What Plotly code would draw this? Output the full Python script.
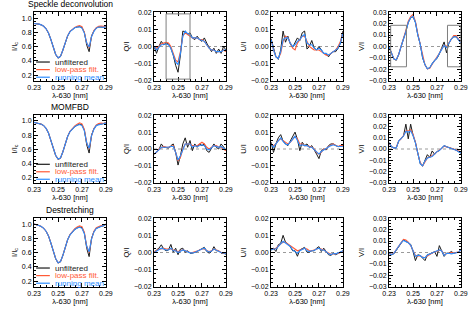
import plotly.graph_objects as go

# ---------------- data ----------------
wavelength = [0.230, 0.232, 0.234, 0.236, 0.238, 0.240, 0.242, 0.244, 0.246, 0.248,
              0.250, 0.252, 0.254, 0.256, 0.258, 0.260, 0.262, 0.264, 0.266, 0.268,
              0.270, 0.272, 0.274, 0.276, 0.278, 0.280, 0.282, 0.284, 0.286, 0.288, 0.290]

methods = ["Speckle deconvolution", "MOMFBD", "Destretching"]
stokes_labels = ["I/I<sub>c</sub>", "Q/I", "U/I", "V/I"]
series_names = ["unfiltered", "low-pass filt.", "running mean"]
x_tick_labels = ["0.23", "0.25", "0.27", "0.29"]

# Speckle deconvolution
speckle_I_unf = [0.925, 0.922, 0.915, 0.905, 0.885, 0.85, 0.79, 0.70, 0.59, 0.49, 0.44, 0.46, 0.55, 0.66, 0.75, 0.81, 0.845, 0.865, 0.875, 0.88, 0.865, 0.80, 0.62, 0.53, 0.75, 0.82, 0.86, 0.875, 0.875, 0.87, 0.88]
speckle_I_lp = [0.925, 0.922, 0.915, 0.905, 0.885, 0.85, 0.79, 0.70, 0.59, 0.495, 0.445, 0.465, 0.55, 0.66, 0.75, 0.815, 0.85, 0.87, 0.885, 0.895, 0.88, 0.80, 0.65, 0.585, 0.74, 0.825, 0.865, 0.885, 0.89, 0.88, 0.88]
speckle_I_rm = [0.925, 0.922, 0.915, 0.905, 0.885, 0.85, 0.79, 0.70, 0.59, 0.495, 0.445, 0.465, 0.55, 0.66, 0.75, 0.81, 0.845, 0.865, 0.875, 0.878, 0.86, 0.79, 0.65, 0.595, 0.74, 0.815, 0.86, 0.875, 0.875, 0.87, 0.88]
speckle_Q_unf = [0.0, -0.004, 0.0, 0.003, 0.001, 0.002, 0.0015, -0.001, -0.005, -0.011, -0.015, -0.005, 0.009, 0.0085, 0.007, 0.008, 0.005, 0.004, 0.006, 0.004, 0.003, 0.005, 0.002, -0.0005, -0.003, -0.001, -0.004, -0.0015, -0.004, 0.0, -0.002]
speckle_Q_lp = [0.0, -0.001, 0.0, 0.0015, 0.002, 0.0025, 0.002, 0.0, -0.004, -0.008, -0.009, -0.003, 0.006, 0.008, 0.007, 0.006, 0.005, 0.005, 0.005, 0.004, 0.004, 0.003, 0.001, -0.001, -0.002, -0.002, -0.003, -0.003, -0.003, -0.002, -0.003]
speckle_Q_rm = [0.0, -0.002, -0.0005, 0.001, 0.0012, 0.0015, 0.001, -0.001, -0.005, -0.009, -0.0105, -0.004, 0.006, 0.009, 0.0075, 0.007, 0.005, 0.005, 0.005, 0.004, 0.0035, 0.003, 0.001, -0.001, -0.002, -0.002, -0.003, -0.003, -0.003, -0.002, -0.002]
speckle_U_unf = [0.0045, -0.001, -0.006, -0.0075, -0.002, 0.009, 0.0025, 0.006, 0.0015, -0.0005, 0.002, 0.005, 0.0035, 0.008, 0.009, -0.0015, 0.0, 0.0035, -0.001, -0.002, 0.0, -0.002, -0.004, -0.0045, -0.006, -0.004, -0.003, -0.003, -0.001, 0.002, 0.009]
speckle_U_lp = [0.004, -0.002, -0.006, -0.007, -0.004, 0.003, 0.006, 0.005, 0.002, -0.001, -0.002, 0.002, 0.004, 0.006, 0.006, 0.003, 0.0, -0.001, -0.002, -0.002, -0.002, -0.003, -0.004, -0.005, -0.005, -0.004, -0.003, -0.002, 0.0, 0.003, 0.008]
speckle_U_rm = [0.004, -0.002, -0.006, -0.007, -0.003, 0.004, 0.005, 0.005, 0.002, 0.0, 0.001, 0.003, 0.004, 0.006, 0.007, 0.002, 0.001, 0.001, -0.001, -0.002, -0.001, -0.002, -0.004, -0.004, -0.005, -0.004, -0.003, -0.002, -0.001, 0.002, 0.008]
speckle_V_unf = [-0.0005, -0.005, -0.011, -0.012, -0.007, 0.0, 0.006, 0.013, 0.021, 0.025, 0.026, 0.021, 0.01, 0.002, -0.01, -0.016, -0.0195, -0.0185, -0.015, -0.012, -0.0105, -0.0065, -0.001, 0.004, -0.0055, 0.003, 0.0065, 0.0085, 0.0085, 0.0055, 0.003]
speckle_V_lp = [-0.0005, -0.005, -0.011, -0.0115, -0.007, 0.0, 0.0065, 0.014, 0.022, 0.026, 0.028, 0.022, 0.011, 0.002, -0.009, -0.016, -0.0195, -0.019, -0.0155, -0.0125, -0.01, -0.006, -0.002, 0.001, 0.0, 0.003, 0.007, 0.0095, 0.0095, 0.007, 0.0035]
speckle_V_rm = [-0.0005, -0.005, -0.011, -0.0115, -0.007, 0.0, 0.006, 0.013, 0.021, 0.025, 0.0265, 0.021, 0.010, 0.002, -0.0095, -0.016, -0.0195, -0.0185, -0.015, -0.0125, -0.01, -0.006, -0.002, 0.001, -0.001, 0.003, 0.0065, 0.0085, 0.0085, 0.006, 0.003]

# MOMFBD
momfbd_I_unf = [0.98, 0.975, 0.965, 0.955, 0.935, 0.895, 0.83, 0.73, 0.61, 0.51, 0.455, 0.47, 0.56, 0.68, 0.78, 0.85, 0.89, 0.92, 0.94, 0.955, 0.945, 0.87, 0.66, 0.545, 0.80, 0.89, 0.935, 0.955, 0.955, 0.96, 0.975]
momfbd_I_lp = [0.98, 0.975, 0.965, 0.955, 0.935, 0.895, 0.83, 0.73, 0.61, 0.515, 0.46, 0.475, 0.56, 0.68, 0.78, 0.855, 0.895, 0.93, 0.955, 0.975, 0.96, 0.88, 0.69, 0.60, 0.79, 0.895, 0.945, 0.965, 0.97, 0.965, 0.975]
momfbd_I_rm = [0.98, 0.975, 0.965, 0.955, 0.935, 0.895, 0.83, 0.73, 0.61, 0.515, 0.46, 0.475, 0.56, 0.68, 0.78, 0.85, 0.89, 0.92, 0.94, 0.95, 0.935, 0.86, 0.69, 0.61, 0.79, 0.885, 0.935, 0.95, 0.955, 0.96, 0.97]
momfbd_Q_unf = [-0.003, -0.002, -0.0005, 0.003, 0.001, 0.001, 0.0005, 0.002, 0.003, -0.002, -0.0095, -0.004, 0.003, 0.0066, 0.001, 0.005, -0.001, 0.003, 0.001, 0.003, 0.002, 0.003, -0.001, -0.002, 0.001, 0.003, 0.001, 0.0, 0.003, 0.001, -0.0005]
momfbd_Q_lp = [-0.003, -0.002, 0.0, 0.001, 0.0015, 0.001, 0.001, 0.0015, 0.002, -0.002, -0.007, -0.005, 0.0, 0.003, 0.003, 0.003, 0.002, 0.002, 0.002, 0.003, 0.004, 0.003, 0.001, 0.0, 0.001, 0.002, 0.002, 0.001, 0.001, 0.0, -0.001]
momfbd_Q_rm = [-0.003, -0.002, -0.0005, 0.001, 0.001, 0.001, 0.001, 0.0015, 0.0015, -0.002, -0.0065, -0.004, 0.0, 0.003, 0.003, 0.003, 0.001, 0.002, 0.0015, 0.002, 0.0025, 0.002, 0.0, -0.0005, 0.001, 0.002, 0.0015, 0.001, 0.0015, 0.0005, -0.0005]
momfbd_U_unf = [0.004, -0.002, 0.003, 0.0066, 0.0085, 0.0047, 0.003, 0.002, 0.0047, 0.0075, 0.01, 0.0057, -0.001, 0.004, 0.002, 0.003, 0.001, 0.002, -0.001, -0.003, -0.0057, -0.001, 0.0, -0.0005, 0.002, 0.003, 0.003, 0.002, 0.0013, 0.002, 0.002]
momfbd_U_lp = [0.003, 0.002, 0.003, 0.005, 0.006, 0.005, 0.004, 0.003, 0.004, 0.006, 0.0075, 0.006, 0.003, 0.003, 0.002, 0.002, 0.0015, 0.001, 0.0, -0.002, -0.003, -0.002, 0.0, 0.0, 0.0015, 0.0025, 0.003, 0.002, 0.0015, 0.002, 0.002]
momfbd_U_rm = [0.003, 0.001, 0.003, 0.005, 0.0065, 0.0045, 0.003, 0.0025, 0.004, 0.006, 0.0075, 0.005, 0.002, 0.0025, 0.002, 0.002, 0.001, 0.001, -0.0005, -0.002, -0.003, -0.0015, -0.0005, 0.0, 0.001, 0.002, 0.0025, 0.002, 0.0015, 0.0015, 0.0015]
momfbd_V_unf = [0.0057, 0.002, 0.001, 0.001, 0.007, 0.009, 0.0115, 0.022, 0.009, 0.022, 0.012, 0.0057, -0.005, -0.013, -0.015, -0.0103, -0.005, -0.0074, -0.0017, -0.0046, -0.0023, -0.0014, 0.0006, 0.003, 0.002, 0.0014, 0.0006, 0.0, -0.0009, -0.0023, -0.0037]
momfbd_V_lp = [0.005, 0.002, 0.001, 0.0015, 0.007, 0.009, 0.012, 0.016, 0.016, 0.017, 0.013, 0.006, -0.004, -0.012, -0.015, -0.011, -0.008, -0.007, -0.006, -0.0045, -0.0025, -0.0012, 0.0006, 0.0025, 0.002, 0.0015, 0.0008, 0.0, -0.001, -0.002, -0.0025]
momfbd_V_rm = [0.0055, 0.002, 0.001, 0.001, 0.007, 0.009, 0.0115, 0.0155, 0.015, 0.016, 0.012, 0.0055, -0.005, -0.013, -0.015, -0.0105, -0.008, -0.0074, -0.0066, -0.0046, -0.0023, -0.0014, 0.0006, 0.003, 0.002, 0.0014, 0.0006, 0.0, -0.001, -0.0025, -0.0035]

# Destretching
destr_I_unf = [1.0, 0.995, 0.98, 0.965, 0.94, 0.90, 0.835, 0.735, 0.615, 0.515, 0.455, 0.47, 0.56, 0.68, 0.78, 0.85, 0.895, 0.925, 0.945, 0.96, 0.95, 0.875, 0.66, 0.545, 0.80, 0.895, 0.94, 0.96, 0.97, 0.975, 1.0]
destr_I_lp = [1.0, 0.995, 0.98, 0.965, 0.94, 0.90, 0.835, 0.735, 0.615, 0.52, 0.46, 0.475, 0.56, 0.68, 0.78, 0.855, 0.90, 0.935, 0.96, 0.975, 0.965, 0.885, 0.69, 0.60, 0.79, 0.90, 0.95, 0.97, 0.98, 0.98, 0.995]
destr_I_rm = [1.0, 0.995, 0.98, 0.965, 0.94, 0.90, 0.835, 0.735, 0.615, 0.52, 0.46, 0.475, 0.56, 0.68, 0.78, 0.85, 0.895, 0.925, 0.945, 0.955, 0.94, 0.865, 0.69, 0.61, 0.79, 0.89, 0.94, 0.955, 0.965, 0.975, 0.995]
destr_Q_unf = [-0.0004, 0.0015, 0.0025, 0.0045, 0.002, 0.001, 0.0015, 0.0047, 0.0002, 0.0025, -0.0013, 0.002, 0.0025, 0.0002, 0.001, -0.0004, -0.0004, 0.0, 0.0006, 0.0015, 0.0025, 0.003, 0.0006, -0.0004, 0.0006, 0.0034, 0.001, 0.001, -0.0004, -0.0004, -0.001]
destr_Q_lp = [0.0005, 0.001, 0.002, 0.002, 0.0025, 0.002, 0.002, 0.002, 0.0015, 0.001, 0.0005, 0.001, 0.0015, 0.001, 0.0005, 0.0, 0.0, 0.0002, 0.0008, 0.0015, 0.002, 0.002, 0.001, 0.0005, 0.001, 0.002, 0.0015, 0.001, 0.0, -0.0003, -0.0005]
destr_Q_rm = [0.0, 0.001, 0.0015, 0.0025, 0.002, 0.0015, 0.0015, 0.0025, 0.001, 0.001, 0.0, 0.001, 0.0015, 0.001, 0.0005, -0.0002, -0.0002, 0.0, 0.0007, 0.0015, 0.002, 0.0025, 0.001, 0.0003, 0.0008, 0.002, 0.0012, 0.0008, 0.0, -0.0003, -0.0006]
destr_U_unf = [0.0015, 0.0025, 0.0006, 0.0045, 0.0053, 0.01, 0.006, 0.005, 0.0034, 0.001, 0.001, -0.0022, 0.0015, 0.0025, 0.003, 0.0002, 0.0002, 0.001, 0.001, 0.0025, 0.0034, 0.0006, 0.0025, 0.0006, -0.0013, -0.0017, -0.0004, -0.0013, -0.0004, 0.0006, 0.001]
destr_U_lp = [0.002, 0.002, 0.0025, 0.004, 0.005, 0.006, 0.006, 0.005, 0.004, 0.003, 0.0015, 0.001, 0.0015, 0.002, 0.0025, 0.002, 0.001, 0.001, 0.0015, 0.002, 0.0025, 0.002, 0.0015, 0.0005, -0.0005, -0.001, -0.0008, -0.0008, -0.0005, 0.0, 0.0008]
destr_U_rm = [0.0015, 0.002, 0.002, 0.0035, 0.0045, 0.0065, 0.0055, 0.0045, 0.0035, 0.0015, 0.0005, -0.0005, 0.001, 0.002, 0.0025, 0.001, 0.0005, 0.001, 0.0012, 0.002, 0.0025, 0.0015, 0.0015, 0.0005, -0.0008, -0.0012, -0.0006, -0.0008, -0.0004, 0.0003, 0.001]
destr_V_unf = [-0.0006, -0.002, -0.0011, 0.0023, 0.0057, 0.008, 0.011, 0.0095, 0.0086, 0.0071, 0.0009, -0.0071, -0.002, -0.0026, -0.0049, -0.0071, -0.002, -0.0014, -0.0006, 0.0009, -0.0034, 0.006, 0.001, -0.0034, -0.0006, -0.0006, 0.0009, -0.0006, 0.0, 0.0003, 0.0023]
destr_V_lp = [-0.001, -0.0015, -0.0005, 0.0025, 0.006, 0.009, 0.0115, 0.011, 0.009, 0.006, 0.0015, -0.0025, -0.003, -0.003, -0.004, -0.0045, -0.003, -0.0015, -0.0005, 0.0005, 0.001, 0.002, 0.0015, -0.002, -0.001, -0.0008, 0.0, -0.0005, 0.0, 0.0005, 0.002]
destr_V_rm = [-0.0008, -0.0018, -0.0008, 0.0023, 0.0057, 0.0085, 0.0105, 0.0095, 0.0085, 0.0065, 0.001, -0.0034, -0.0025, -0.0026, -0.0045, -0.0045, -0.0022, -0.0014, -0.0006, 0.0008, 0.0012, 0.0023, 0.0014, -0.0025, -0.0008, -0.0006, -0.0012, -0.0006, 0.0, 0.0003, 0.0023]

# highlighted wavelength windows (row 1): (x0, x1, y0, y1)
q_box = (0.240, 0.260, -0.019, 0.019)
v_boxes = [(0.2313, 0.2445, -0.0177, 0.0185), (0.2788, 0.2900, -0.0177, 0.0185)]

panels = [
    [(speckle_I_unf, speckle_I_lp, speckle_I_rm), (speckle_Q_unf, speckle_Q_lp, speckle_Q_rm),
     (speckle_U_unf, speckle_U_lp, speckle_U_rm), (speckle_V_unf, speckle_V_lp, speckle_V_rm)],
    [(momfbd_I_unf, momfbd_I_lp, momfbd_I_rm), (momfbd_Q_unf, momfbd_Q_lp, momfbd_Q_rm),
     (momfbd_U_unf, momfbd_U_lp, momfbd_U_rm), (momfbd_V_unf, momfbd_V_lp, momfbd_V_rm)],
    [(destr_I_unf, destr_I_lp, destr_I_rm), (destr_Q_unf, destr_Q_lp, destr_Q_rm),
     (destr_U_unf, destr_U_lp, destr_U_rm), (destr_V_unf, destr_V_lp, destr_V_rm)],
]

# ---------------- layout / style ----------------
W, H = 472, 314
col_px = [(34, 106), (154, 226), (271, 343), (389, 461)]
row_px = [(12, 81), (115, 183), (218, 287)]
colors = ["#1a1a1a", "#ff5a36", "#2b8cff"]
FONT = "Liberation Sans"

fig = go.Figure()
layout = dict(
    width=W, height=H, template="none",
    margin=dict(l=0, r=0, t=0, b=0),
    paper_bgcolor="white", plot_bgcolor="white",
    font=dict(family=FONT, size=7, color="black"),
    showlegend=False,
)
shapes = []
annotations = []

yranges = [[0.12, 1.085], [-0.0201, 0.0201], [-0.0201, 0.0201], [-0.0301, 0.0301]]
ydticks = [0.2, 0.01, 0.01, 0.01]
yformats = [".1f", ".2f", ".2f", ".2f"]
yminor = [0.05, 0.0025, 0.0025, 0.0025]

for r in range(3):
    for c in range(4):
        n = r * 4 + c + 1
        sx = "" if n == 1 else str(n)
        xa, ya = "x" + sx, "y" + sx
        x0p, x1p = col_px[c]
        y0p, y1p = row_px[r]
        common = dict(showline=True, linecolor="black", linewidth=1, mirror="ticks",
                      ticks="inside", ticklen=4, tickcolor="black", tickwidth=1,
                      showgrid=False, zeroline=False, automargin=False,
                      tickfont=dict(size=7, family=FONT))
        layout["xaxis" + sx] = dict(
            common, domain=[x0p / W, x1p / W], anchor=ya,
            range=[0.2299, 0.2901], tickmode="array",
            tickvals=[float(t) for t in x_tick_labels], ticktext=x_tick_labels,
            minor=dict(ticks="inside", ticklen=2, tickcolor="black", tick0=0.23, dtick=0.005),
            title=dict(text="λ-630 [nm]", font=dict(size=7.5, family=FONT), standoff=2),
        )
        layout["yaxis" + sx] = dict(
            common, domain=[1 - y1p / H, 1 - y0p / H], anchor=xa,
            range=yranges[c], tickmode="linear", tick0=0, dtick=ydticks[c],
            tickformat=yformats[c],
            minor=dict(ticks="inside", ticklen=2, tickcolor="black", tick0=0, dtick=yminor[c]),
            title=dict(text=stokes_labels[c], font=dict(size=7.5, family=FONT), standoff=3),
        )
        if c > 0:
            shapes.append(dict(type="line", xref=xa + " domain", yref=ya, x0=0, x1=1, y0=0, y1=0,
                               line=dict(color="#9a9a9a", width=1, dash="dot"), layer="below"))
        for k, vals in enumerate(panels[r][c]):
            fig.add_trace(go.Scatter(x=wavelength, y=vals, mode="lines", name=series_names[k],
                                     line=dict(color=colors[k], width=1 if k == 0 else 1.1),
                                     xaxis=xa, yaxis=ya, showlegend=False))
        if c == 0:
            annotations.append(dict(text=methods[r], xref=xa + " domain", yref=ya + " domain",
                                    x=0.5, y=1, xanchor="center", yanchor="bottom", yshift=1,
                                    showarrow=False, font=dict(size=8.5, family=FONT)))
            for k, ypos in enumerate([0.275, 0.165, 0.055]):
                shapes.append(dict(type="line", xref=xa + " domain", yref=ya + " domain",
                                   x0=0.03, x1=0.22, y0=ypos, y1=ypos,
                                   line=dict(color=colors[k], width=1.2)))
                annotations.append(dict(text=series_names[k], xref=xa + " domain", yref=ya + " domain",
                                        x=0.27, y=ypos, xanchor="left", yanchor="middle",
                                        showarrow=False, font=dict(size=8, family=FONT, color=colors[k])))

# highlight boxes in the first row
shapes.append(dict(type="rect", xref="x2", yref="y2", x0=q_box[0], x1=q_box[1], y0=q_box[2], y1=q_box[3],
                   line=dict(color="#7f7f7f", width=1)))
for bx in v_boxes:
    shapes.append(dict(type="rect", xref="x4", yref="y4", x0=bx[0], x1=bx[1], y0=bx[2], y1=bx[3],
                       line=dict(color="#7f7f7f", width=1)))

layout["shapes"] = shapes
layout["annotations"] = annotations
fig.update_layout(**layout)
fig.write_html("out.html",
               config={"displayModeBar": False, "staticPlot": True},
               post_script="document.body.style.margin='0px';document.body.style.padding='0px';"
                           "document.body.style.overflow='hidden';")
